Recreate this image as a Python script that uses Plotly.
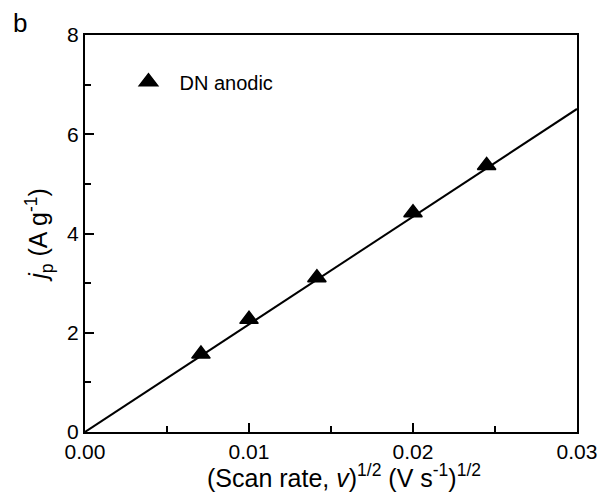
import plotly.graph_objects as go

# Peak current density vs square root of scan rate
sqrt_scan_rate = [0.00707, 0.01, 0.01414, 0.02, 0.02449]
peak_current = [1.57, 2.27, 3.11, 4.42, 5.37]
series_name = "DN anodic"

# Linear fit through the origin
fit_x = [0.0, 0.03]
fit_slope = 217.0
fit_y = [fit_slope * v for v in fit_x]

font_family = "Liberation Sans, Arial, sans-serif"

fig = go.Figure()

fig.add_trace(go.Scatter(
    x=fit_x, y=fit_y, mode="lines",
    line=dict(color="black", width=2),
    showlegend=False, hoverinfo="skip",
))

fig.add_trace(go.Scatter(
    x=sqrt_scan_rate, y=peak_current, mode="markers",
    name=series_name,
    marker=dict(symbol="triangle-up", size=16, color="black",
                line=dict(color="black", width=1.5)),
))

axis_common = dict(
    showline=True, linecolor="black", linewidth=2, mirror=True,
    ticks="inside", tickcolor="black", tickwidth=1.5, ticklen=9,
    showgrid=False, zeroline=False, automargin=False,
    tickfont=dict(family=font_family, size=21, color="black"),
)

fig.update_layout(
    width=602, height=497,
    margin=dict(l=85, r=25, t=35, b=65),
    paper_bgcolor="white", plot_bgcolor="white",
    font=dict(family=font_family, color="black"),
    xaxis=dict(
        range=[0, 0.03], dtick=0.01, tickformat=".2f",
        minor=dict(ticks="inside", dtick=0.005, ticklen=6,
                   tickcolor="black", tickwidth=1.5),
        **axis_common,
    ),
    yaxis=dict(
        range=[0, 8], dtick=2,
        minor=dict(ticks="inside", dtick=1, ticklen=6,
                   tickcolor="black", tickwidth=1.5),
        title=dict(text="<i>j</i><sub>p</sub> (A g<sup>-1</sup>)",
                   font=dict(family=font_family, size=25, color="black"),
                   standoff=12),
        **axis_common,
    ),
    legend=dict(
        x=0.066, y=0.882, xanchor="left", yanchor="middle",
        bgcolor="rgba(0,0,0,0)", borderwidth=0,
        itemwidth=52,
        font=dict(family=font_family, size=20, color="black"),
    ),
    showlegend=True,
    annotations=[
        dict(
            text="b", xref="paper", yref="paper", x=-0.132, y=1.03,
            xanchor="center", yanchor="middle", showarrow=False,
            font=dict(family=font_family, size=26, color="black"),
        ),
        # x-axis title
        dict(
            text="(Scan rate, <i>v</i>)<sup>1/2</sup> (V s<sup>-1</sup>)<sup>1/2</sup>",
            xref="paper", yref="paper", x=0.527, y=-0.156,
            xanchor="center", yanchor="bottom", showarrow=False,
            font=dict(family=font_family, size=25, color="black"),
        ),
    ],
)

fig.write_html("out.html")
